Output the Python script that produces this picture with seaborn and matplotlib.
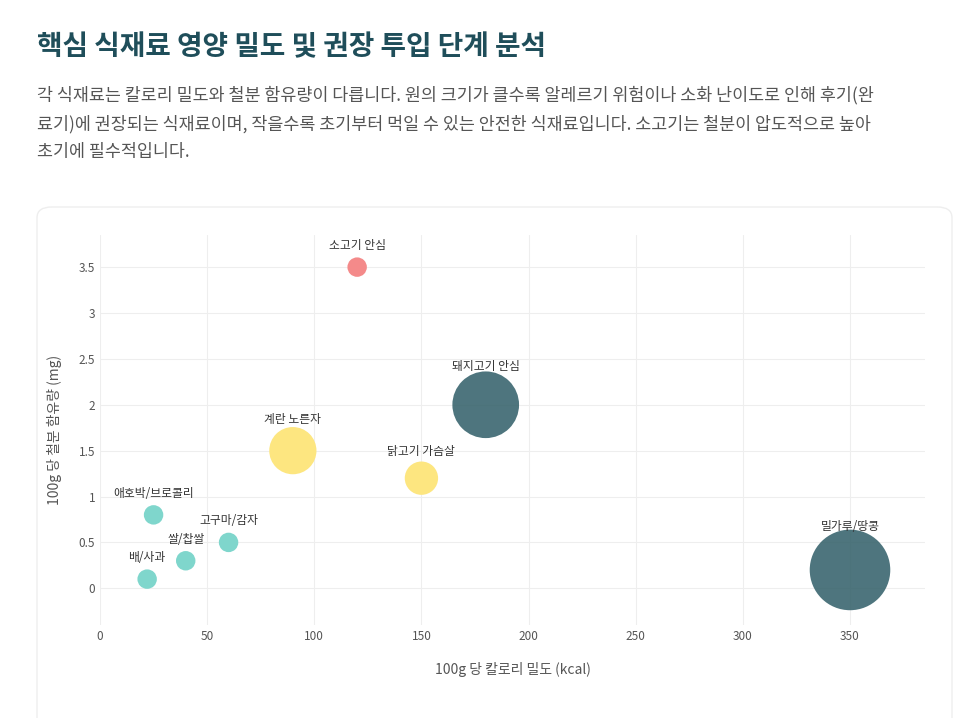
import matplotlib
matplotlib.use("Agg")
import matplotlib.pyplot as plt
import seaborn as sns
import pandas as pd
from matplotlib.patches import FancyBboxPatch

names = ["소고기 안심", "돼지고기 안심", "계란 노른자", "닭고기 가슴살", "애호박/브로콜리", "고구마/감자", "쌀/찹쌀", "배/사과", "밀가루/땅콩"]
kcal = [120, 180, 90, 150, 25, 60, 40, 22, 350]
iron = [3.5, 2.0, 1.5, 1.2, 0.8, 0.5, 0.3, 0.1, 0.2]
size = [14, 48, 34, 24, 14, 14, 14, 14, 58]
group = ["red", "dark", "yellow", "yellow", "teal", "teal", "teal", "teal", "dark"]
palette = {"red": "#f48a8a", "dark": "#2f5d67", "yellow": "#fde680", "teal": "#7fd6cc"}
alpha = {"red": 1, "dark": 0.85, "yellow": 1, "teal": 1}

df = pd.DataFrame(dict(name=names, kcal=kcal, iron=iron, size=size, group=group))

sns.set_theme(style="whitegrid")
plt.rcParams['font.family'] = ['Noto Sans CJK KR', 'DejaVu Sans']
fig = plt.figure(figsize=(9.75, 7.18), dpi=100)
fig.patch.set_facecolor("white")

fig.text(37/975, 1-47/718, "핵심 식재료 영양 밀도 및 권장 투입 단계 분석", fontsize=20, fontweight="bold", color="#1f4e5a", va="center")
desc = ("각 식재료는 칼로리 밀도와 철분 함유량이 다릅니다. 원의 크기가 클수록 알레르기 위험이나 소화 난이도로 인해 후기(완\n"
        "료기)에 권장되는 식재료이며, 작을수록 초기부터 먹일 수 있는 안전한 식재료입니다. 소고기는 철분이 압도적으로 높아\n"
        "초기에 필수적입니다.")
fig.text(37/975, 1-86/718, desc, fontsize=12.5, color="#555555", va="top", linespacing=1.7)

card = FancyBboxPatch((37/975, -0.02), 915/975, (718-207)/718 + 0.02, boxstyle="round,pad=0,rounding_size=0.015",
                      transform=fig.transFigure, facecolor="white", edgecolor="#eeeeee", lw=1, zorder=-10)
fig.patches.append(card)

ax = fig.add_axes([100/975, 1-625/718, 825/975, 390/718])
ax.set_zorder(5)
ax.set_facecolor("none")
for g, d in df.groupby("group"):
    sns.scatterplot(data=d, x="kcal", y="iron", s=[v**2 for v in d["size"]], color=palette[g],
                    alpha=alpha[g], edgecolor="none", ax=ax, legend=False)
for n, x, y, s in zip(names, kcal, iron, size):
    ax.annotate(n, (x, y), xytext=(0, s/2 + 8), textcoords="offset pixels",
                ha="center", va="bottom", fontsize=8.5, color="#333333")
ax.set_xlim(0, 385)
ax.set_ylim(-0.4, 3.85)
ax.set_xticks([0, 50, 100, 150, 200, 250, 300, 350])
ax.set_yticks([0, 0.5, 1, 1.5, 2, 2.5, 3, 3.5])
ax.set_yticklabels(["0", "0.5", "1", "1.5", "2", "2.5", "3", "3.5"])
ax.tick_params(labelsize=8.5, colors="#555555", length=0)
ax.grid(color="#eeeeee", lw=0.8)
for sp in ax.spines.values():
    sp.set_visible(False)
ax.set_xlabel("100g 당 칼로리 밀도 (kcal)", fontsize=10, color="#555555", labelpad=14)
ax.set_ylabel("100g 당 철분 함유량 (mg)", fontsize=10, color="#555555", labelpad=12)
fig.savefig("out.png", dpi=100)
